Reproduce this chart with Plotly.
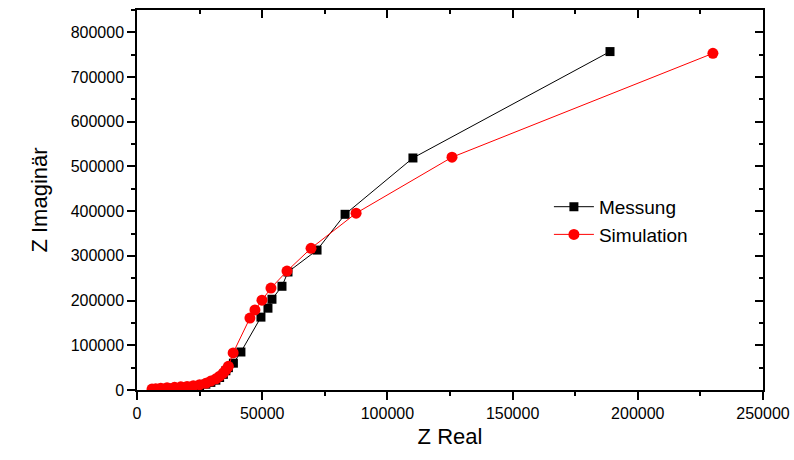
import plotly.graph_objects as go

# Messung (measurement)
mess_x = [6500, 8000, 10000, 13000, 16000, 19000, 22000, 25000, 27500, 29500,
          31500, 33000, 34500, 35500, 36500, 38500, 41500, 49500, 52300, 53900,
          57900, 60300, 71900, 83100, 110200, 188900]
mess_y = [1500, 2500, 3500, 4500, 5500, 6500, 8000, 10000, 13000, 17000,
          22000, 28000, 35000, 43000, 50000, 60000, 85000, 163000, 183000, 203000,
          232000, 264000, 313000, 393000, 519000, 757000]

# Simulation
sim_x = [6000, 7500, 9500, 12000, 15000, 17500, 20000, 22500, 25000, 27500,
         29500, 31500, 33000, 34500, 35500, 36500, 38400, 45100, 47100, 49900,
         53500, 59900, 69500, 87500, 125800, 230000]
sim_y = [2000, 3000, 4000, 5000, 6000, 7000, 8000, 9500, 12000, 15000,
         20000, 25000, 31000, 38000, 45000, 53000, 83000, 161000, 179000, 201000,
         228000, 266000, 317000, 395500, 520700, 753000]

x_range = [0, 250000]
y_range = [0, 850000]
x_ticks = [0, 50000, 100000, 150000, 200000, 250000]
y_ticks = [0, 100000, 200000, 300000, 400000, 500000, 600000, 700000, 800000]

FONT = "Arial, 'Liberation Sans', sans-serif"

fig = go.Figure()
fig.add_trace(go.Scatter(
    x=mess_x, y=mess_y, mode="lines+markers", name="Messung",
    line=dict(color="black", width=1),
    marker=dict(symbol="square", size=9, color="black"),
))
fig.add_trace(go.Scatter(
    x=sim_x, y=sim_y, mode="lines+markers", name="Simulation",
    line=dict(color="#ff0000", width=1),
    marker=dict(symbol="circle", size=11, color="#ff0000"),
))
# empty trace to hold mirror axes
fig.add_trace(go.Scatter(x=[], y=[], xaxis="x2", yaxis="y2", showlegend=False, hoverinfo="skip"))

axis_common = dict(showgrid=False, zeroline=False, showline=True, linecolor="black",
                   linewidth=1.5, tickcolor="black", tickwidth=1.5, ticklen=8,
                   automargin=False)

fig.update_layout(
    width=794, height=460,
    margin=dict(l=137, r=31, t=10, b=70),
    paper_bgcolor="white", plot_bgcolor="white",
    font=dict(family=FONT, color="black", size=16),
    xaxis=dict(range=x_range, tickvals=x_ticks, ticktext=[str(v) for v in x_ticks],
               ticks="outside",
               minor=dict(dtick=25000, ticks="outside", ticklen=4, tickcolor="black", tickwidth=1.5),
               title=dict(text="Z Real", font=dict(size=22), standoff=8),
               tickfont=dict(size=16), **axis_common),
    yaxis=dict(range=y_range, tickvals=y_ticks, ticktext=[str(v) for v in y_ticks],
               ticks="outside",
               minor=dict(dtick=50000, ticks="outside", ticklen=4, tickcolor="black", tickwidth=1.5),
               title=dict(text="Z Imaginär", font=dict(size=22), standoff=17),
               tickfont=dict(size=16), **axis_common),
    xaxis2=dict(range=x_range, overlaying="x", side="top", tickvals=x_ticks,
                showticklabels=False, ticks="inside",
                minor=dict(dtick=25000, ticks="inside", ticklen=4, tickcolor="black", tickwidth=1.5),
                **axis_common),
    yaxis2=dict(range=y_range, overlaying="y", side="right", tickvals=y_ticks,
                showticklabels=False, ticks="inside",
                minor=dict(dtick=50000, ticks="inside", ticklen=4, tickcolor="black", tickwidth=1.5),
                **axis_common),
    legend=dict(x=0.658, y=0.532, xanchor="left", yanchor="top",
                bgcolor="rgba(0,0,0,0)", font=dict(size=19), itemwidth=40),
    showlegend=True,
)

fig.write_html("out.html", config={"displayModeBar": False},
               post_script="document.body.style.margin='0';document.body.style.overflow='hidden';")
